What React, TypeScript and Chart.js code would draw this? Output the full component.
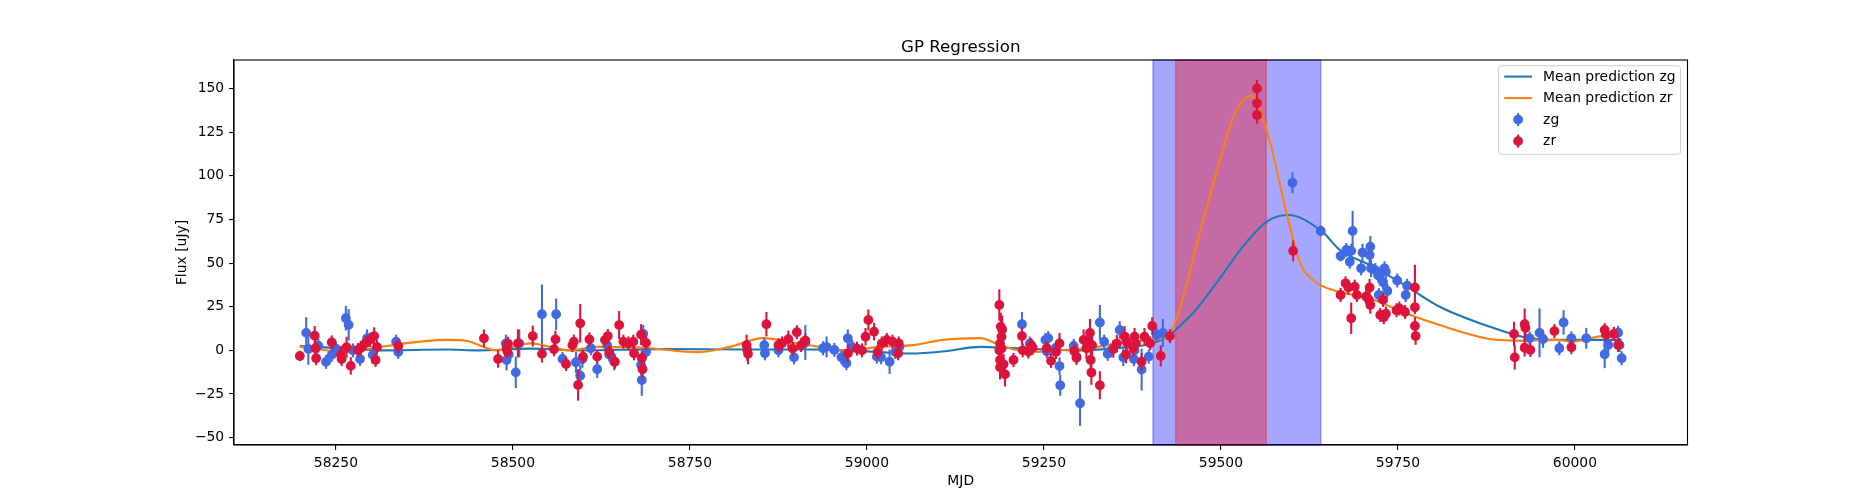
import React, { useEffect, useRef } from 'react'
import { Chart, registerables } from 'chart.js'

Chart.register(...registerables)

// observed points, zg band
const zgMjd = [
  58208, 58211, 58225, 58236, 58244, 58250, 58264, 58268, 58274, 58284, 58294, 58302, 58335, 58338,
  58490, 58491, 58494, 58504, 58509, 58541, 58561, 58570, 58589, 58595, 58598, 58610, 58619, 58633, 58636, 58643, 58682, 58681, 58684, 58688,
  58855, 58856, 58875, 58897, 58913, 58938, 58943, 58954, 58964, 58971, 58973, 58979, 59014, 59020, 59032, 59040, 59046,
  59219, 59230, 59252, 59256, 59254, 59267, 59272, 59273, 59301, 59292, 59296, 59329, 59335, 59340, 59345, 59357, 59362, 59378, 59377, 59388, 59398, 59409, 59418,
  59601, 59641,
  59669, 59677, 59686, 59684, 59682, 59698, 59700, 59711, 59710, 59712, 59718, 59722, 59731, 59733, 59729, 59723, 59735, 59749, 59763, 59761,
  59936, 59950, 59955, 59978, 59984, 59995, 60016, 60042, 60047, 60061, 60063, 60066,
]
const zgFlux = [
  10, 0.8, 2.7, -6.6, -2.6, 1, 18.4, 14.6, 0, -4.9, 7, -2.6, 5, -0.9,
  4, -5.5, -2.4, -12.6, 4, 20.7, 20.7, -4.9, -6.8, -14.5, -5, 1.2, -10.8, 3, -2.4, -6.5, -17, -8.3, 9.5, -1,
  3, -1.7, 0, -4, 4.5, 1.2, 2, 0.2, -4, -7.4, 6.9, 2, -3.6, -4, -6.5, -1, 2,
  15, 4, 6, 7, -0.5, 1.5, -9, -20, -30.3, 2.5, -3.6, 16, 5, -2, 0, 11.7, -4, 0, -5, -11, -3.6, 8.8, 10,
  96, 68.4,
  54, 57.5, 68.4, 57, 50.8, 47, 56, 59.4, 54.6, 47, 46, 43, 47, 45, 39, 31.7, 34, 40, 37, 31.7,
  6.9, 10, 6.5, 1.2, 16, 6.9, 6.9, -2.2, 3.1, 10.1, 3, -4.5,
]
const zgErr = [
  9, 9, 4, 4, 4, 4, 7, 9, 4, 4, 5, 5, 4, 4,
  5, 6, 5, 9, 8, 17, 9, 4, 6, 6, 5, 4, 5, 4, 4, 5, 9, 6, 5, 4,
  4, 4, 4, 4, 10, 4, 6, 4, 4, 4, 5, 4, 4, 4, 7, 4, 4,
  7, 4, 4, 4, 4, 4, 5, 6, 13, 4, 4, 10, 4, 4, 4, 5, 5, 4, 4, 12, 4, 4, 8,
  6, 3,
  3, 4, 11.5, 4, 4, 4, 5, 6, 6, 5, 4, 4, 4, 4, 4, 4, 4, 4, 4, 4,
  4, 14, 5, 4, 7, 4, 6, 8, 4, 4, 4, 4,
]

// observed points, zr band
const zrMjd = [
  58199, 58220, 58221, 58222, 58244, 58257, 58258, 58265, 58271, 58281, 58285, 58292, 58298, 58304, 58308, 58306, 58338,
  58459, 58479, 58491, 58492, 58493, 58507, 58528, 58541, 58558, 58560, 58575, 58584, 58586, 58592, 58595, 58599, 58608, 58619, 58630, 58634, 58636, 58644, 58650, 58656, 58663, 58670, 58671, 58682, 58683, 58681, 58688,
  58830, 58831, 58832, 58858, 58875, 58880, 58889, 58895, 58901, 58907, 58913, 58973, 58986, 58993, 58998, 59002, 59010, 59015, 59021, 59028, 59036, 59044, 59045,
  59187, 59189, 59191, 59190, 59188, 59190, 59187, 59188, 59188, 59195, 59193, 59207, 59219, 59220, 59228, 59232, 59234, 59254, 59260, 59267, 59272, 59293, 59296, 59306, 59310, 59315, 59316, 59317, 59313, 59318, 59329, 59348, 59353, 59364, 59366, 59367, 59378, 59380, 59376, 59388, 59392, 59400, 59403, 59415, 59428,
  59551, 59551, 59551, 59602,
  59669, 59676, 59680, 59689, 59684, 59692, 59705, 59710, 59709, 59711, 59729, 59725, 59730, 59733, 59748, 59752, 59760, 59774, 59774, 59774, 59775,
  59914, 59915, 59929, 59930, 59929, 59937, 59971, 59995, 60042, 60044, 60055, 60061,
]
const zrFlux = [
  -3.2, 8.4, 1.2, -4.5, 4.6, -2.6, -5, 1.8, -8.9, 0.2, 1.4, 4.2, 6, 8.2, 1.9, -5.5, 2.5,
  6.9, -4.9, 1.2, -0.5, 3.8, 4, 8.2, -2, 0.6, 6.3, -7.8, 3, 5, -19.8, 15.5, -3.6, 6.3, -3.6, 6, 8.2, -1, -6.5, 14.5, 5, 4, 5, -1.7, -4.5, -10.8, 9, 4.3,
  3, 0, -2, 15, 3, 4, 6.4, 1, 10.4, 3, 5.6, -1.7, 1, 0, 7.8, 17.4, 10.7, -1, 4, 6, 5, -1.7, 4,
  26, 13.6, 12, 7.8, 4, 1, 0, -5.5, -9.7, -13.7, -8, -5.5, 8.2, 0, -0.7, 3, 1.5, 1.2, -6, -1, 4, -0.5, -4.3, 6, 1.2, 10, -5.5, -12.7, 5, 3, -20, 0.8, 3.9, 7.9, -2.4, 4.8, 7.8, 3.9, 1.5, -6.5, 7.8, 4, 14, -3.2, 8.2,
  150, 141.5, 134.8, 57,
  31.7, 38.4, 36, 36.5, 18.4, 31.7, 30.8, 36, 29, 26, 28.9, 20.3, 19, 21, 23, 24, 22, 36, 24.7, 14, 8.2,
  9.4, -4, 15, 12.9, 1.5, 0.2, 11, 1.8, 11.7, 9, 9.4, 3.1,
]
const zrErr = [
  3, 5.5, 5, 4, 4, 5, 4, 6, 5, 4, 4, 4, 4, 5, 4, 4, 4,
  5, 5, 4, 4, 4, 8, 6, 5, 4, 5, 4, 4, 4, 9, 11, 4, 4, 4, 4, 4, 4, 4, 8, 4, 4, 4, 4, 4, 5, 6, 4,
  6, 6, 6, 7, 4, 4, 5, 4, 4, 4, 4, 5, 4, 4, 5, 6, 5, 4, 4, 4, 4, 4, 4,
  9, 8, 8, 6, 6, 6, 6, 7, 7, 7, 6, 4, 5, 4, 4, 4, 4, 4, 4, 4, 6, 4, 4, 6, 6, 8, 6, 7, 6, 6, 8, 5, 5, 6, 5, 5, 5, 5, 5, 5, 5, 4, 5, 6, 4,
  5, 5, 5, 6,
  4, 4, 4, 4, 9, 4, 4, 5, 4, 5, 4, 4, 4, 4, 4, 4, 4, 13, 4, 5, 5,
  7, 7, 9, 5, 5, 4, 4, 4, 4, 4, 4, 4,
]

// GP mean curves
const meanZgMjd = [
  58199, 58265, 58312, 58407, 58450, 58524, 58595, 58708, 58830, 58924, 59018, 59061, 59110, 59160, 59206, 59301, 59371,
  59404, 59428, 59442, 59464, 59498, 59532, 59566, 59595, 59643, 59668, 59715, 59763, 59809, 59880, 59927, 59974, 60021, 60066,
]
const meanZgFlux = [
  2.5, 1, 0, 0.5, 0, 1, 0, 0.7, 0.5, 0.5, -1, -1.8, -0.5, 2, 1.3, 0, 2,
  4, 9, 14, 23, 41, 60, 74, 77.5, 68, 57.5, 48, 36.5, 25, 13.5, 7.7, 6, 6, 6,
]
const meanZrMjd = [
  58199, 58265, 58312, 58407, 58435, 58477, 58524, 58580, 58619, 58689, 58760, 58806, 58853, 58901, 58934, 58972, 59018, 59065, 59107, 59160,
  59188, 59230, 59277, 59325, 59371, 59404, 59424, 59438, 59470, 59503, 59520, 59543, 59560, 59572, 59593, 59612, 59636, 59658, 59715, 59763, 59809, 59880, 59927, 59974, 59997, 60035, 60066,
]
const meanZrFlux = [
  2, -1, 2, 6, 5.4, 0, 4, 0, 2, 1.4, -1, 2, 7, 4, 2, 0, 2, 3, 6, 7,
  3, -1, 0.2, 2, 5, 6, 8, 19, 67, 115, 136, 146, 132, 115, 78, 50, 38.6, 34.6, 29, 21, 14.5, 6.5, 5.5, 6, 5, 8, 9,
]

// shaded MJD intervals
const bandZg = [59404, 59641]
const bandZr = [59436, 59564]

const xTicks = [58250, 58500, 58750, 59000, 59250, 59500, 59750, 60000]
const yTicks = [-50, -25, 0, 25, 50, 75, 100, 125, 150]
const seriesLabels = ['Mean prediction zg', 'Mean prediction zr', 'zg', 'zr']

const FONT = 'DejaVu Sans'

const bandsPlugin = {
  id: 'bands',
  beforeDatasetsDraw(chart: any) {
    const { ctx, chartArea, scales } = chart
    const draw = (band: number[], rgb: string) => {
      const x0 = scales.x.getPixelForValue(band[0])
      const x1 = scales.x.getPixelForValue(band[1])
      ctx.save()
      ctx.fillStyle = `rgba(${rgb},0.35)`
      ctx.fillRect(x0, chartArea.top, x1 - x0, chartArea.bottom - chartArea.top)
      ctx.strokeStyle = `rgba(${rgb},0.35)`
      ctx.lineWidth = 1.4
      ctx.strokeRect(x0, chartArea.top, x1 - x0, chartArea.bottom - chartArea.top)
      ctx.restore()
    }
    draw(bandZg, '0,0,255')
    draw(bandZr, '255,0,0')
  },
}

const errorBarPlugin = {
  id: 'errorBars',
  beforeDatasetDraw(chart: any, args: any) {
    const ds = chart.data.datasets[args.index]
    if (!ds.errors) return
    const { ctx, scales } = chart
    ctx.save()
    ctx.strokeStyle = ds.backgroundColor
    ctx.lineWidth = 2.08
    ds.data.forEach((p: any, i: number) => {
      const x = scales.x.getPixelForValue(p.x)
      ctx.beginPath()
      ctx.moveTo(x, scales.y.getPixelForValue(p.y - ds.errors[i]))
      ctx.lineTo(x, scales.y.getPixelForValue(p.y + ds.errors[i]))
      ctx.stroke()
    })
    ctx.restore()
  },
}

const framePlugin = {
  id: 'frame',
  afterDatasetsDraw(chart: any) {
    const { ctx, chartArea } = chart
    ctx.save()
    ctx.strokeStyle = '#000'
    ctx.lineWidth = 1.1
    ctx.strokeRect(chartArea.left, chartArea.top, chartArea.right - chartArea.left, chartArea.bottom - chartArea.top)
    ctx.restore()
  },
  afterDraw(chart: any) {
    const { ctx, chartArea } = chart
    const cx = (chartArea.left + chartArea.right) / 2
    const cy = (chartArea.top + chartArea.bottom) / 2
    ctx.save()
    ctx.fillStyle = '#000'
    ctx.textAlign = 'center'
    ctx.font = `16.7px "${FONT}"`
    ctx.textBaseline = 'alphabetic'
    ctx.fillText('GP Regression', cx, chartArea.top - 8.3)
    ctx.font = `13.9px "${FONT}"`
    ctx.textBaseline = 'middle'
    ctx.fillText('MJD', cx, 481)
    ctx.translate(182, cy)
    ctx.rotate(-Math.PI / 2)
    ctx.fillText('Flux [uJy]', 0, 0)
    ctx.restore()

    // legend
    const datasets = chart.data.datasets
    const lx = 1498.6, ly = 65.8, lw = 182, lh = 88.5
    ctx.save()
    ctx.beginPath()
    ctx.roundRect(lx, ly, lw, lh, 2.8)
    ctx.fillStyle = 'rgba(255,255,255,0.8)'
    ctx.fill()
    ctx.strokeStyle = '#cccccc'
    ctx.lineWidth = 1
    ctx.stroke()
    const hx0 = lx + 5.6, hx1 = hx0 + 27.8, tx = hx1 + 11.1
    ctx.font = `13.9px "${FONT}"`
    ctx.textBaseline = 'middle'
    ctx.textAlign = 'left'
    datasets.forEach((ds: any, i: number) => {
      const y = ly + 10.8 + i * 21.5
      if (ds.errors) {
        const mx = (hx0 + hx1) / 2
        ctx.strokeStyle = ds.backgroundColor
        ctx.lineWidth = 2.08
        ctx.beginPath()
        ctx.moveTo(mx, y - 6.5)
        ctx.lineTo(mx, y + 6.5)
        ctx.stroke()
        ctx.fillStyle = ds.backgroundColor
        ctx.beginPath()
        ctx.arc(mx, y, 4.9, 0, Math.PI * 2)
        ctx.fill()
      } else {
        ctx.strokeStyle = ds.borderColor
        ctx.lineWidth = 2.08
        ctx.beginPath()
        ctx.moveTo(hx0, y)
        ctx.lineTo(hx1, y)
        ctx.stroke()
      }
      ctx.fillStyle = '#000'
      ctx.fillText(ds.label, tx, y + 0.5)
    })
    ctx.restore()
  },
}

const toPoints = (xs: number[], ys: number[]) => xs.map((x, i) => ({ x, y: ys[i] }))

const fmtNum = (v: number) => (v < 0 ? '\u2212' + Math.abs(v) : String(v))

const GPChart = () => {
  const chartRef = useRef<HTMLCanvasElement>(null)

  useEffect(() => {
    if (!chartRef.current) return
    const ctx = chartRef.current.getContext('2d')
    if (!ctx) return

    Chart.defaults.font.family = FONT
    Chart.defaults.color = '#000'

    const tickFont = { size: 13.9, family: FONT }
    const grid = { drawOnChartArea: false, color: '#000', tickLength: 4.9, lineWidth: 1.1 }
    const border = { color: '#000', width: 1.1 }

    const chart = new Chart(ctx, {
      type: 'scatter',
      data: {
        datasets: [
          {
            type: 'line',
            label: seriesLabels[0],
            data: toPoints(meanZgMjd, meanZgFlux),
            borderColor: '#1f77b4',
            borderWidth: 2.08,
            pointRadius: 0,
            cubicInterpolationMode: 'monotone',
            order: 4,
          },
          {
            type: 'line',
            label: seriesLabels[1],
            data: toPoints(meanZrMjd, meanZrFlux),
            borderColor: '#ff7f0e',
            borderWidth: 2.08,
            pointRadius: 0,
            cubicInterpolationMode: 'monotone',
            order: 3,
          },
          {
            label: seriesLabels[2],
            data: toPoints(zgMjd, zgFlux),
            backgroundColor: '#4169e1',
            borderColor: '#4169e1',
            pointRadius: 4.2,
            borderWidth: 1.4,
            errors: zgErr,
            order: 2,
          } as any,
          {
            label: seriesLabels[3],
            data: toPoints(zrMjd, zrFlux),
            backgroundColor: '#dc143c',
            borderColor: '#dc143c',
            pointRadius: 4.2,
            borderWidth: 1.4,
            errors: zrErr,
            order: 1,
          } as any,
        ],
      },
      options: {
        animation: false,
        responsive: true,
        maintainAspectRatio: false,
        layout: { padding: { left: 0, right: 187.5, top: 60, bottom: 0 } },
        plugins: {
          legend: { display: false },
          tooltip: { enabled: false },
        },
        scales: {
          x: {
            type: 'linear',
            min: 58106,
            max: 60159,
            afterBuildTicks: (s: any) => {
              s.ticks = xTicks.map((value) => ({ value }))
            },
            afterFit: (s: any) => {
              s.height = 55
            },
            ticks: {
              callback: (v: any) => String(v),
              font: tickFont,
              color: '#000',
              padding: 4.9,
              maxRotation: 0,
              autoSkip: false,
            },
            grid,
            border,
          },
          y: {
            type: 'linear',
            min: -54.2,
            max: 166.3,
            afterBuildTicks: (s: any) => {
              s.ticks = yTicks.map((value) => ({ value }))
            },
            afterFit: (s: any) => {
              s.width = 234
            },
            ticks: {
              callback: (v: any) => fmtNum(Number(v)),
              font: tickFont,
              color: '#000',
              padding: 4.9,
              autoSkip: false,
            },
            grid,
            border,
          },
        },
      } as any,
      plugins: [bandsPlugin, errorBarPlugin, framePlugin],
    })

    return () => {
      chart.destroy()
    }
  }, [])

  return (
    <div style={{ position: 'fixed', left: 0, top: 0, width: 1875, height: 500, background: '#fff' }}>
      <canvas ref={chartRef} />
    </div>
  )
}

export default function App() {
  return <GPChart />
}
